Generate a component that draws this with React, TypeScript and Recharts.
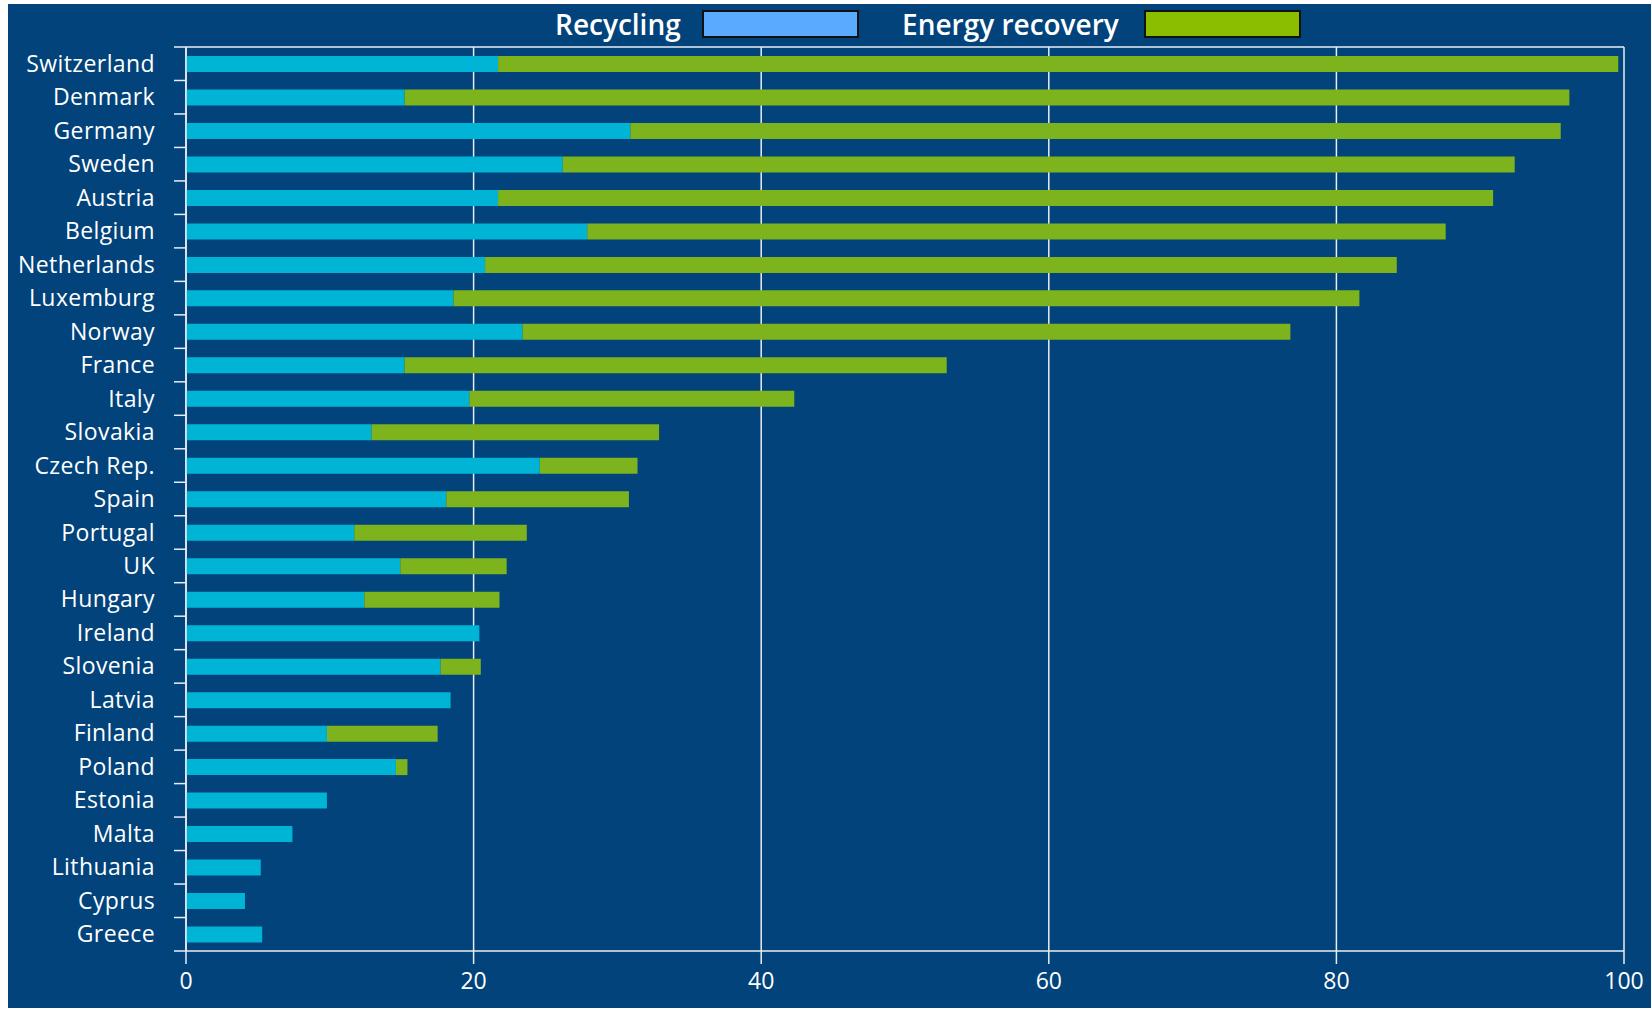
import React from "react";
import { BarChart, Bar, XAxis, YAxis, CartesianGrid, Legend } from "recharts";

const COUNTRIES = [
  "Switzerland", "Denmark", "Germany", "Sweden", "Austria", "Belgium", "Netherlands",
  "Luxemburg", "Norway", "France", "Italy", "Slovakia", "Czech Rep.", "Spain",
  "Portugal", "UK", "Hungary", "Ireland", "Slovenia", "Latvia", "Finland", "Poland",
  "Estonia", "Malta", "Lithuania", "Cyprus", "Greece",
];
const RECYCLING = [
  21.7, 15.2, 30.9, 26.2, 21.7, 27.9, 20.8, 18.6, 23.4, 15.2, 19.7, 12.9, 24.6, 18.1,
  11.7, 14.9, 12.4, 20.4, 17.7, 18.4, 9.8, 14.6, 9.8, 7.4, 5.2, 4.1, 5.3,
];
const ENERGY_RECOVERY = [
  77.9, 81.0, 64.7, 66.2, 69.2, 59.7, 63.4, 63.0, 53.4, 37.7, 22.6, 20.0, 6.8, 12.7,
  12.0, 7.4, 9.4, 0, 2.8, 0, 7.7, 0.8, 0, 0, 0, 0, 0,
];
const X_TICKS = [0, 20, 40, 60, 80, 100];

const data = COUNTRIES.map((country, i) => ({
  country,
  recycling: RECYCLING[i],
  energy: ENERGY_RECOVERY[i],
}));

const BG = "#01437a";
const LINE = "#e9eef4";
const FONT = "'Open Sans', sans-serif";

const PLOT_LEFT = 186;
const PLOT_TOP = 47;
const PLOT_BOTTOM = 951;
const BAND = (PLOT_BOTTOM - PLOT_TOP) / COUNTRIES.length;

function CountryTick(props: any) {
  const { y, payload, index } = props;
  const top = y - BAND / 2;
  return (
    <g>
      <line x1={PLOT_LEFT - 12} x2={PLOT_LEFT} y1={top} y2={top} stroke={LINE} strokeWidth={1.5} />
      {index === COUNTRIES.length - 1 && (
        <line x1={PLOT_LEFT - 12} x2={PLOT_LEFT} y1={y + BAND / 2} y2={y + BAND / 2} stroke={LINE} strokeWidth={1.5} />
      )}
      <text x={PLOT_LEFT - 31} y={y} dy="0.35em" textAnchor="end" fill="#ffffff" fontSize={23} letterSpacing={0.4} fontFamily={FONT}>
        {payload.value}
      </text>
    </g>
  );
}

function renderLegend() {
  const item = (label: string, color: string, textX: number, boxX: number) => (
    <>
      <span style={{ position: "absolute", left: textX, top: 0, color: "#fff", fontSize: 28, fontWeight: 600, fontFamily: FONT, whiteSpace: "nowrap", lineHeight: "40px" }}>
        {label}
      </span>
      <span style={{ position: "absolute", left: boxX, top: 6, width: 153, height: 24, background: color, border: "2px solid #111" }} />
    </>
  );
  return (
    <div style={{ position: "relative", height: 40 }}>
      {item("Recycling", "#5aabff", 555, 702)}
      {item("Energy recovery", "#8cbe00", 902, 1144)}
    </div>
  );
}

export default function App() {
  return (
    <div style={{ position: "absolute", left: 0, top: 0, width: 1651, height: 1010, background: "#fff" }}>
      <div style={{ position: "absolute", left: 8, top: 4, width: 1643, height: 1004, background: BG }} />
      <div style={{ position: "absolute", left: 0, top: 0 }}>
        <BarChart
          width={1651}
          height={1010}
          data={data}
          layout="vertical"
          margin={{ top: 7, right: 27, bottom: 0, left: 0 }}
          barSize={16}
        >
          <Legend
            verticalAlign="top"
            align="left"
            content={renderLegend}
            wrapperStyle={{ left: 0, top: 4, width: 1651, height: 40 }}
          />
          <CartesianGrid stroke={LINE} strokeWidth={1.5} horizontalPoints={[PLOT_TOP]} />
          <XAxis
            type="number"
            domain={[0, 100]}
            ticks={X_TICKS}
            height={59}
            axisLine={{ stroke: LINE, strokeWidth: 1.5 }}
            tickLine={{ stroke: LINE, strokeWidth: 1.5 }}
            tickSize={13}
            tickMargin={9}
            tick={{ fill: "#fff", fontSize: 23, fontFamily: FONT }}
          />
          <YAxis
            type="category"
            dataKey="country"
            width={PLOT_LEFT}
            axisLine={{ stroke: LINE, strokeWidth: 1.5 }}
            tickLine={false}
            interval={0}
            tick={<CountryTick />}
          />
          <Bar dataKey="recycling" name="Recycling" stackId="a" fill="#00b4d5" isAnimationActive={false} />
          <Bar dataKey="energy" name="Energy recovery" stackId="a" fill="#7db31d" isAnimationActive={false} />
        </BarChart>
      </div>
    </div>
  );
}
